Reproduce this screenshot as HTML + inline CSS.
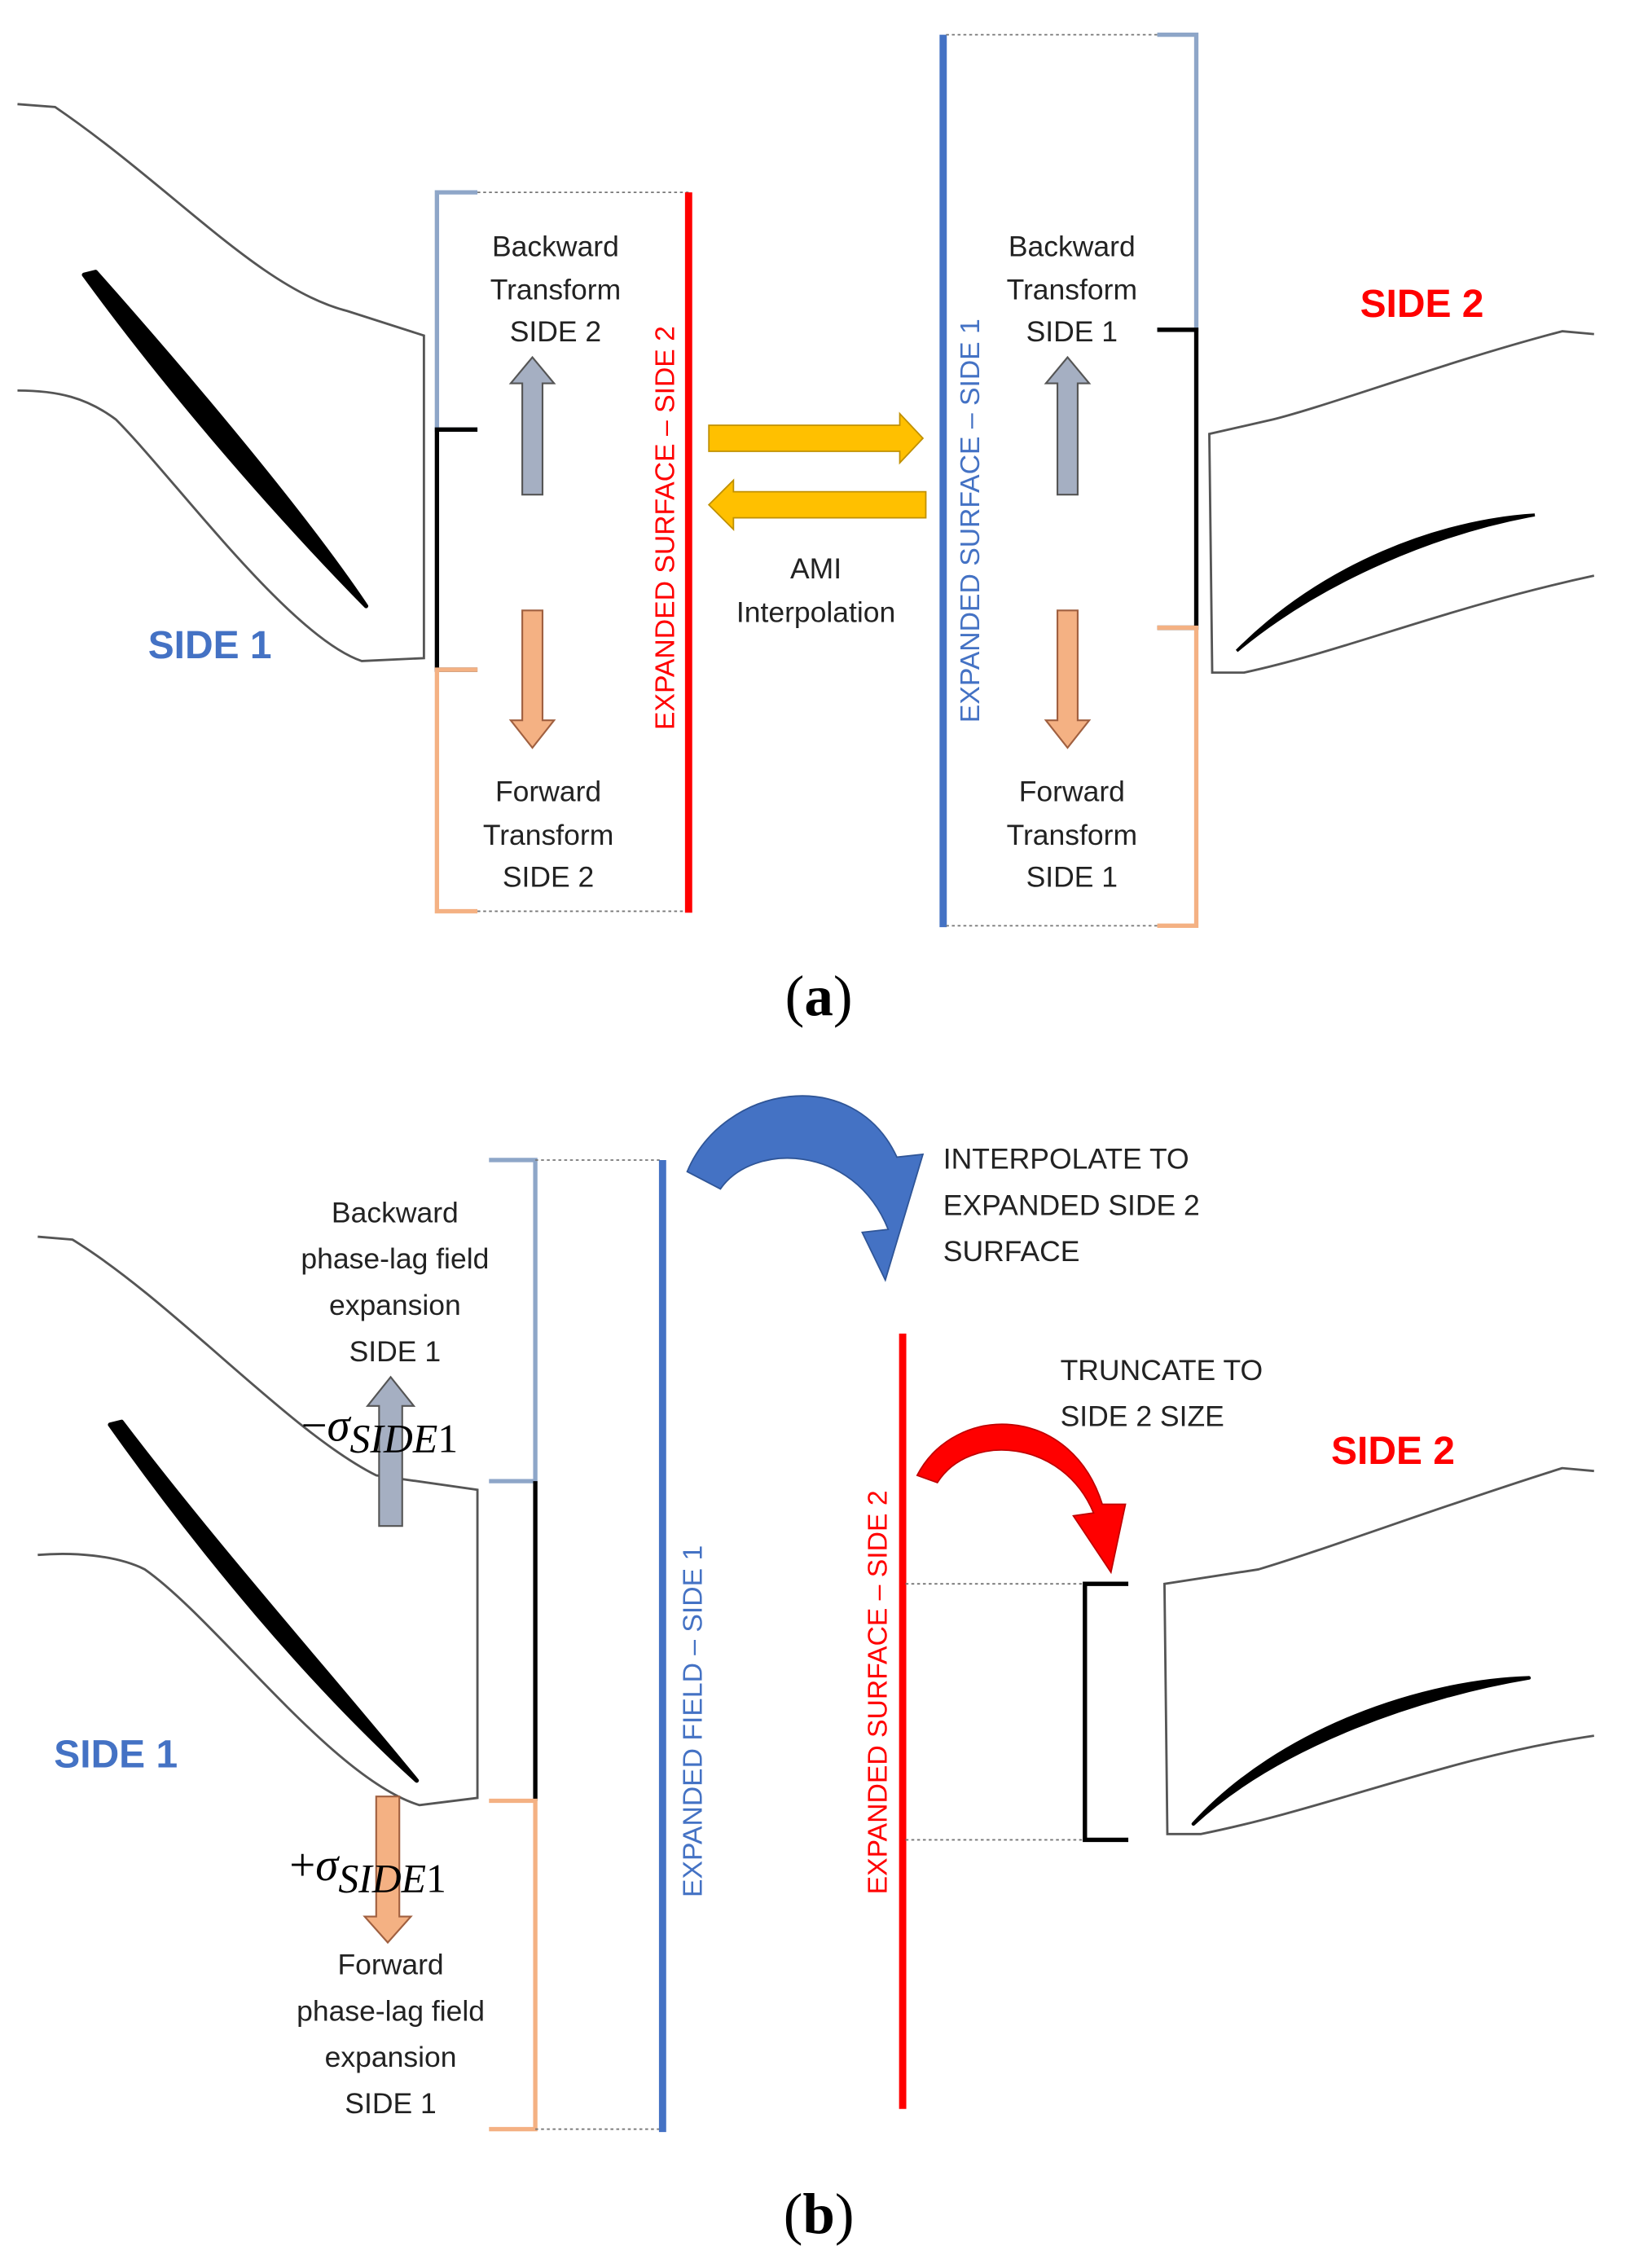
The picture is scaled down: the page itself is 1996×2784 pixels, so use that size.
<!DOCTYPE html>
<html><head><meta charset="utf-8"><style>
html,body{margin:0;padding:0;background:#fff}
svg{display:block}
.s{font-family:"Liberation Sans","DejaVu Sans",sans-serif}
.r{font-family:"Liberation Serif","DejaVu Serif",serif}
</style></head><body>
<svg width="1996" height="2784" viewBox="0 0 1124 1568" xmlns="http://www.w3.org/2000/svg">
<rect width="1124" height="1568" fill="#fff"/>
<g class="s">
<!-- ===== (a) ===== -->
<path d="M12,72 L38,74 C120,130 180,200 240,215 L293,232 L293,455 L250,457 C200,440 120,330 80,290 C60,275 40,270 12,270" fill="none" stroke="#555" stroke-width="1.6"/>
<path d="M58,190 C120,275 195,360 253,419 C210,355 130,260 66,188 Z" fill="#000" stroke="#000" stroke-width="3" stroke-linejoin="round"/>
<text x="145" y="455" font-size="27" font-weight="bold" fill="#4472c4" text-anchor="middle">SIDE 1</text>
<path d="M330,133 L302,133 L302,297 L330,297" fill="none" stroke="#8ea6c8" stroke-width="3"/>
<path d="M330,297 L302,297 L302,463 L330,463" fill="none" stroke="#000" stroke-width="3"/>
<path d="M330,463 L302,463 L302,630 L330,630" fill="none" stroke="#f4b183" stroke-width="3"/>
<line x1="330" y1="133" x2="476" y2="133" stroke="#777" stroke-width="1" stroke-dasharray="2,2"/>
<line x1="330" y1="630" x2="476" y2="630" stroke="#777" stroke-width="1" stroke-dasharray="2,2"/>
<line x1="476" y1="133" x2="476" y2="631" stroke="#f00" stroke-width="5"/>
<text transform="translate(466,365) rotate(-90)" font-size="19" fill="#f00" text-anchor="middle">EXPANDED SURFACE – SIDE 2</text>
<g font-size="20" fill="#222" text-anchor="middle">
<text x="384" y="177">Backward</text><text x="384" y="207">Transform</text><text x="384" y="236">SIDE 2</text>
<text x="379" y="554">Forward</text><text x="379" y="584">Transform</text><text x="379" y="613">SIDE 2</text>
<text x="564" y="400">AMI</text><text x="564" y="430">Interpolation</text>
<text x="741" y="177">Backward</text><text x="741" y="207">Transform</text><text x="741" y="236">SIDE 1</text>
<text x="741" y="554">Forward</text><text x="741" y="584">Transform</text><text x="741" y="613">SIDE 1</text>
</g>
<path d="M361,342 L361,265 L353,265 L368,247 L383,265 L375,265 L375,342 Z" fill="#a5afc2" stroke="#555" stroke-width="1.2"/>
<path d="M361,422 L375,422 L375,498 L383,498 L368,517 L353,498 L361,498 Z" fill="#f4b183" stroke="#a06040" stroke-width="1.2"/>
<path d="M731,342 L731,265 L723,265 L738,247 L753,265 L745,265 L745,342 Z" fill="#a5afc2" stroke="#555" stroke-width="1.2"/>
<path d="M731,422 L745,422 L745,498 L753,498 L738,517 L723,498 L731,498 Z" fill="#f4b183" stroke="#a06040" stroke-width="1.2"/>
<path d="M490,294 L622,294 L622,286 L638,303 L622,320 L622,312 L490,312 Z" fill="#ffc000" stroke="#c09000" stroke-width="1"/>
<path d="M640,340 L507,340 L507,332 L490,349 L507,366 L507,358 L640,358 Z" fill="#ffc000" stroke="#c09000" stroke-width="1"/>
<line x1="652" y1="24" x2="652" y2="641" stroke="#4472c4" stroke-width="5"/>
<text transform="translate(677,360) rotate(-90)" font-size="19" fill="#4472c4" text-anchor="middle">EXPANDED SURFACE – SIDE 1</text>
<line x1="654" y1="24" x2="800" y2="24" stroke="#777" stroke-width="1" stroke-dasharray="2,2"/>
<line x1="654" y1="640" x2="800" y2="640" stroke="#777" stroke-width="1" stroke-dasharray="2,2"/>
<path d="M800,24 L827,24 L827,228 L800,228" fill="none" stroke="#8ea6c8" stroke-width="3"/>
<path d="M800,228 L827,228 L827,434 L800,434" fill="none" stroke="#000" stroke-width="3"/>
<path d="M800,434 L827,434 L827,640 L800,640" fill="none" stroke="#f4b183" stroke-width="3"/>
<text x="983" y="219" font-size="27" font-weight="bold" fill="#f00" text-anchor="middle">SIDE 2</text>
<path d="M1102,231 L1080,229 C1000,250 920,280 880,290 L836,300 L838,465 L860,465 C930,450 1000,420 1102,398" fill="none" stroke="#555" stroke-width="1.6"/>
<path d="M855,450 C915,390 995,360 1061,356 C995,368 915,400 855,450 Z" fill="#000" stroke="#000" stroke-width="2"/>
<text x="566" y="702" font-size="40" class="r" text-anchor="middle">(<tspan font-weight="bold">a</tspan>)</text>
<!-- ===== (b) ===== -->
<path d="M26,855 L50,857 C120,900 200,990 260,1020 L330,1030 L330,1243 L290,1248 C230,1230 150,1120 100,1085 C80,1075 50,1073 26,1075" fill="none" stroke="#555" stroke-width="1.6"/>
<path d="M76,985 C140,1075 215,1165 288,1231 C230,1160 150,1070 84,983 Z" fill="#000" stroke="#000" stroke-width="3" stroke-linejoin="round"/>
<text x="80" y="1222" font-size="27" font-weight="bold" fill="#4472c4" text-anchor="middle">SIDE 1</text>
<path d="M338,802 L370,802 L370,1024 L338,1024" fill="none" stroke="#8ea6c8" stroke-width="3"/>
<path d="M370,1024 L370,1245" fill="none" stroke="#000" stroke-width="3"/>
<path d="M338,1245 L370,1245 L370,1472 L338,1472" fill="none" stroke="#f4b183" stroke-width="3"/>
<line x1="370" y1="802" x2="458" y2="802" stroke="#777" stroke-width="1" stroke-dasharray="2,2"/>
<line x1="370" y1="1472" x2="458" y2="1472" stroke="#777" stroke-width="1" stroke-dasharray="2,2"/>
<line x1="458" y1="802" x2="458" y2="1474" stroke="#4472c4" stroke-width="5"/>
<text transform="translate(485,1190) rotate(-90)" font-size="19" fill="#4472c4" text-anchor="middle">EXPANDED FIELD – SIDE 1</text>
<g font-size="20" fill="#222" text-anchor="middle">
<text x="273" y="845">Backward</text><text x="273" y="877">phase-lag field</text><text x="273" y="909">expansion</text><text x="273" y="941">SIDE 1</text>
<text x="270" y="1365">Forward</text><text x="270" y="1397">phase-lag field</text><text x="270" y="1429">expansion</text><text x="270" y="1461">SIDE 1</text>
</g>
<g font-size="20" fill="#222">
<text x="652" y="808">INTERPOLATE TO</text><text x="652" y="840">EXPANDED SIDE 2</text><text x="652" y="872">SURFACE</text>
<text x="733" y="954">TRUNCATE TO</text><text x="733" y="986">SIDE 2 SIZE</text>
</g>
<path d="M262,1055 L262,972 L254,972 L270,952 L286,972 L278,972 L278,1055 Z" fill="#a5afc2" stroke="#555" stroke-width="1.2"/>
<path d="M260,1242 L276,1242 L276,1325 L284,1325 L268,1343 L252,1325 L260,1325 Z" fill="#f4b183" stroke="#a06040" stroke-width="1.2"/>
<text x="208" y="996" font-size="32" class="r" fill="#000">−<tspan font-style="italic">σ</tspan><tspan font-style="italic" dy="8" font-size="28">SIDE</tspan><tspan font-size="28">1</tspan></text>
<text x="200" y="1300" font-size="32" class="r" fill="#000">+<tspan font-style="italic">σ</tspan><tspan font-style="italic" dy="8" font-size="28">SIDE</tspan><tspan font-size="28">1</tspan></text>
<path d="M475,810 C500,750 590,735 620,800 L638,798 L612,885 L596,852 L614,850 C590,790 520,790 498,822 Z" fill="#4472c4" stroke="#2f5597" stroke-width="1"/>
<line x1="624" y1="922" x2="624" y2="1458" stroke="#f00" stroke-width="5"/>
<text transform="translate(613,1170) rotate(-90)" font-size="19" fill="#f00" text-anchor="middle">EXPANDED SURFACE – SIDE 2</text>
<path d="M634,1020 C660,970 740,970 762,1040 L778,1040 L768,1087 L742,1048 L756,1046 C735,995 670,990 648,1025 Z" fill="#f00" stroke="#c00000" stroke-width="1"/>
<text x="963" y="1012" font-size="27" font-weight="bold" fill="#f00" text-anchor="middle">SIDE 2</text>
<line x1="626" y1="1095" x2="750" y2="1095" stroke="#777" stroke-width="1" stroke-dasharray="2,2"/>
<line x1="626" y1="1272" x2="750" y2="1272" stroke="#777" stroke-width="1" stroke-dasharray="2,2"/>
<path d="M780,1095 L750,1095 L750,1272 L780,1272" fill="none" stroke="#000" stroke-width="3"/>
<path d="M1102,1017 L1080,1015 C1000,1040 920,1070 870,1085 L805,1095 L807,1268 L830,1268 C920,1250 1000,1215 1102,1200" fill="none" stroke="#555" stroke-width="1.6"/>
<path d="M825,1261 C885,1195 985,1162 1057,1160 C985,1172 885,1205 825,1261 Z" fill="#000" stroke="#000" stroke-width="2.5" stroke-linejoin="round"/>
<text x="566" y="1544" font-size="40" class="r" text-anchor="middle">(<tspan font-weight="bold">b</tspan>)</text>
</g>
</svg>
</body></html>
